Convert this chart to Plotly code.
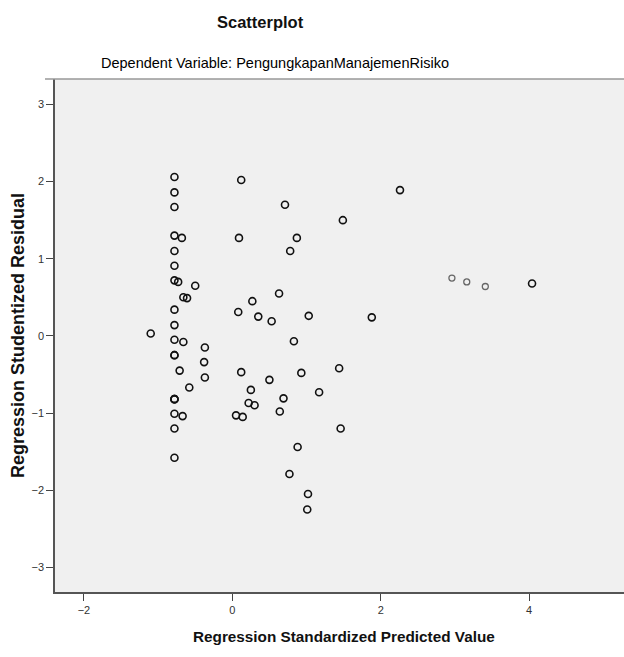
import plotly.graph_objects as go

# Regression Standardized Predicted Value (x) and Studentized Residual (y)
pred_cluster = [-0.78] * 18
resid_cluster = [2.06, 1.86, 1.67, 1.30, 1.10, 0.91, 0.72, 0.34, 0.14, -0.05,
                 -0.25, -0.25, -0.82, -0.82, -0.82, -1.01, -1.20, -1.58]

pred_other = [-0.68, -0.73, -0.50, -0.66, -0.61, -1.10, -0.66, -0.37, -0.38, -0.71,
              -0.37, -0.58, -0.67,
              0.12, 0.71, 0.09, 0.87, 0.78, 0.63, 0.27, 0.08, 0.35, 0.53,
              1.03, 2.26, 1.49, 1.88, 0.83, 0.12, 1.44, 0.50, 0.93, 0.25,
              1.17, 0.69, 0.22, 0.30, 0.64, 0.05, 0.14, 1.46, 0.88, 0.77,
              1.02, 1.01, 4.04]
resid_other = [1.27, 0.70, 0.65, 0.50, 0.49, 0.03, -0.08, -0.15, -0.34, -0.45,
               -0.54, -0.67, -1.04,
               2.02, 1.70, 1.27, 1.27, 1.10, 0.55, 0.45, 0.31, 0.25, 0.19,
               0.26, 1.89, 1.50, 0.24, -0.07, -0.47, -0.42, -0.57, -0.48, -0.70,
               -0.73, -0.81, -0.87, -0.90, -0.98, -1.03, -1.05, -1.20, -1.44, -1.79,
               -2.05, -2.25, 0.68]

pred_gray = [2.96, 3.16, 3.41]
resid_gray = [0.75, 0.70, 0.64]

x_ticks = [-2, 0, 2, 4]
y_ticks = [-3, -2, -1, 0, 1, 2, 3]

FONT = "Liberation Sans, Arial, sans-serif"
W = 640           # figure wider than the window so the plot runs off the right edge
PW = W - 55       # plot-area width in px

fig = go.Figure()
fig.add_trace(go.Scatter(
    x=pred_cluster + pred_other, y=resid_cluster + resid_other, mode="markers",
    marker=dict(symbol="circle-open", size=7, color="#111111",
                line=dict(width=1.6, color="#111111")),
    showlegend=False, hoverinfo="x+y"))
fig.add_trace(go.Scatter(
    x=pred_gray, y=resid_gray, mode="markers",
    marker=dict(symbol="circle-open", size=6, color="#666666",
                line=dict(width=1.3, color="#666666")),
    showlegend=False, hoverinfo="x+y"))

fig.update_layout(
    width=W, height=657,
    margin=dict(l=55, r=0, t=79, b=65),
    paper_bgcolor="white", plot_bgcolor="#f0f0f0",
    font=dict(family=FONT, color="#222222"),
    xaxis=dict(range=[-2.39, 5.495], tickvals=x_ticks, showgrid=False, zeroline=False,
               showline=True, linecolor="#555555", linewidth=1.5,
               ticks="outside", ticklen=7, tickcolor="#444444", tickwidth=1,
               tickfont=dict(size=11, color="#333333")),
    yaxis=dict(range=[-3.32, 3.33], tickvals=y_ticks, showgrid=False, zeroline=False,
               showline=True, linecolor="#555555", linewidth=1.5,
               ticks="outside", ticklen=7, tickcolor="#444444", tickwidth=1,
               tickfont=dict(size=11, color="#333333")),
    shapes=[dict(type="line", xref="paper", yref="paper", x0=-10 / PW, x1=1, y0=1, y1=1,
                 line=dict(color="#999999", width=1.5))],
    annotations=[
        dict(text="<b>Scatterplot</b>", xref="paper", yref="paper",
             x=(260 - 55) / PW, y=(592 - 22) / 513, showarrow=False,
             xanchor="center", yanchor="middle", font=dict(size=16.5, color="#111111")),
        dict(text="Dependent Variable: PengungkapanManajemenRisiko", xref="paper", yref="paper",
             x=(275 - 55) / PW, y=(592 - 63) / 513, showarrow=False,
             xanchor="center", yanchor="middle", font=dict(size=14.5, color="#000000")),
        dict(text="<b>Regression Standardized Predicted Value</b>", xref="paper", yref="paper",
             x=(344 - 55) / PW, y=(592 - 636) / 513, showarrow=False,
             xanchor="center", yanchor="middle", font=dict(size=15.3, color="#111111")),
        dict(text="<b>Regression Studentized Residual</b>", xref="paper", yref="paper",
             x=(18 - 55) / PW, y=(592 - 336) / 513, showarrow=False, textangle=-90,
             xanchor="center", yanchor="middle", font=dict(size=18, color="#111111")),
    ],
)

fig.write_html(
    "out.html",
    config={"displayModeBar": False},
    post_script="document.body.style.margin='0';document.body.style.overflow='hidden';",
)
